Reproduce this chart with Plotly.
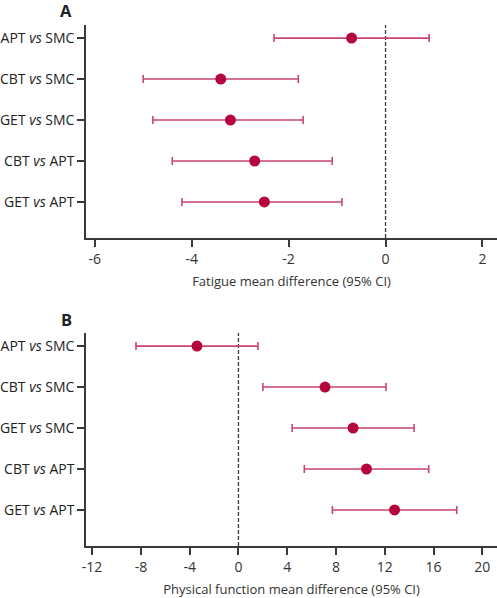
import plotly.graph_objects as go

comparisons = ["APT <i>vs</i> SMC", "CBT <i>vs</i> SMC", "GET <i>vs</i> SMC", "CBT <i>vs</i> APT", "GET <i>vs</i> APT"]
row_pos = [0, 1, 2, 3, 4]

fatigue_mean = [-0.7, -3.4, -3.2, -2.7, -2.5]
fatigue_low = [-2.3, -5.0, -4.8, -4.4, -4.2]
fatigue_high = [0.9, -1.8, -1.7, -1.1, -0.9]

physical_mean = [-3.4, 7.1, 9.4, 10.5, 12.8]
physical_low = [-8.4, 2.0, 4.4, 5.4, 7.7]
physical_high = [1.6, 12.1, 14.4, 15.6, 17.9]

fatigue_ticks = [-6, -4, -2, 0, 2]
physical_ticks = [-12, -8, -4, 0, 4, 8, 12, 16, 20]

W, H = 497, 598
L = 81
marker_color = "#B4053D"
bar_color = "#C9456D"
axis_color = "#3a3a3a"
FONT = "Open Sans"

fig = go.Figure()

def add_panel(mean, low, high, xa, ya):
    fig.add_trace(go.Scatter(
        x=mean, y=row_pos, mode="markers",
        marker=dict(color=marker_color, size=11),
        error_x=dict(type="data", symmetric=False,
                     array=[h - m for h, m in zip(high, mean)],
                     arrayminus=[m - l for m, l in zip(mean, low)],
                     color=bar_color, thickness=1.6, width=4),
        xaxis=xa, yaxis=ya, showlegend=False, hoverinfo="skip"))

add_panel(fatigue_mean, fatigue_low, fatigue_high, "x", "y")
add_panel(physical_mean, physical_low, physical_high, "x2", "y2")

def px_dom(top, bottom):
    return [1 - bottom / H, 1 - top / H]

def labels(ticks):
    return [str(t) for t in ticks]  # ASCII hyphen minus, as in the reference

common_x = dict(showline=True, linecolor=axis_color, linewidth=1.5, ticks="outside",
                ticklen=7, tickwidth=1.5, tickcolor=axis_color, showgrid=False, zeroline=False,
                tickfont=dict(family=FONT, size=14, color="#333"),
                title_font=dict(family=FONT, size=13, color="#333"))
common_y = dict(showline=True, linecolor=axis_color, linewidth=1.5, ticks="outside",
                ticklen=7, tickwidth=1.5, tickcolor=axis_color, showgrid=False, zeroline=False,
                tickvals=row_pos, ticktext=comparisons, range=[4.88, -0.32],
                tickfont=dict(family=FONT, size=14, color="#222"))

fig.update_layout(
    width=W, height=H,
    margin=dict(l=L, r=0, t=0, b=0),
    paper_bgcolor="white", plot_bgcolor="white",
    xaxis=dict(domain=[0, 1], anchor="y", range=[-6.18, 2.3], tickvals=fatigue_ticks,
               ticktext=labels(fatigue_ticks),
               title=dict(text="Fatigue mean difference (95% CI)", standoff=10), **common_x),
    yaxis=dict(domain=px_dom(25, 238), anchor="x", **common_y),
    xaxis2=dict(domain=[0, 1], anchor="y2", range=[-12.5, 21.2], tickvals=physical_ticks,
                ticktext=labels(physical_ticks),
                title=dict(text="Physical function mean difference (95% CI)", standoff=10), **common_x),
    yaxis2=dict(domain=px_dom(333, 546), anchor="x2", **common_y),
)

# reference lines at zero
for xa, ya in (("x", "y"), ("x2", "y2")):
    fig.add_shape(type="line", xref=xa, yref=f"{ya} domain", x0=0, x1=0, y0=0, y1=1,
                  line=dict(color=axis_color, width=1.3, dash="4px,2px"), layer="below")

def px_x(px):
    return (px - L) / (W - L)

for letter, cy in (("A", 10.5), ("B", 319)):
    fig.add_annotation(text=f"<b>{letter}</b>", x=px_x(61), y=1 - cy / H,
                       xref="paper", yref="paper", xanchor="center", yanchor="middle",
                       showarrow=False, borderpad=0,
                       font=dict(family=FONT, size=16.5, color="#222"))

fig.write_html("out.html", config={"displayModeBar": False},
               post_script="document.body.style.margin='0';document.body.style.overflow='hidden';")
